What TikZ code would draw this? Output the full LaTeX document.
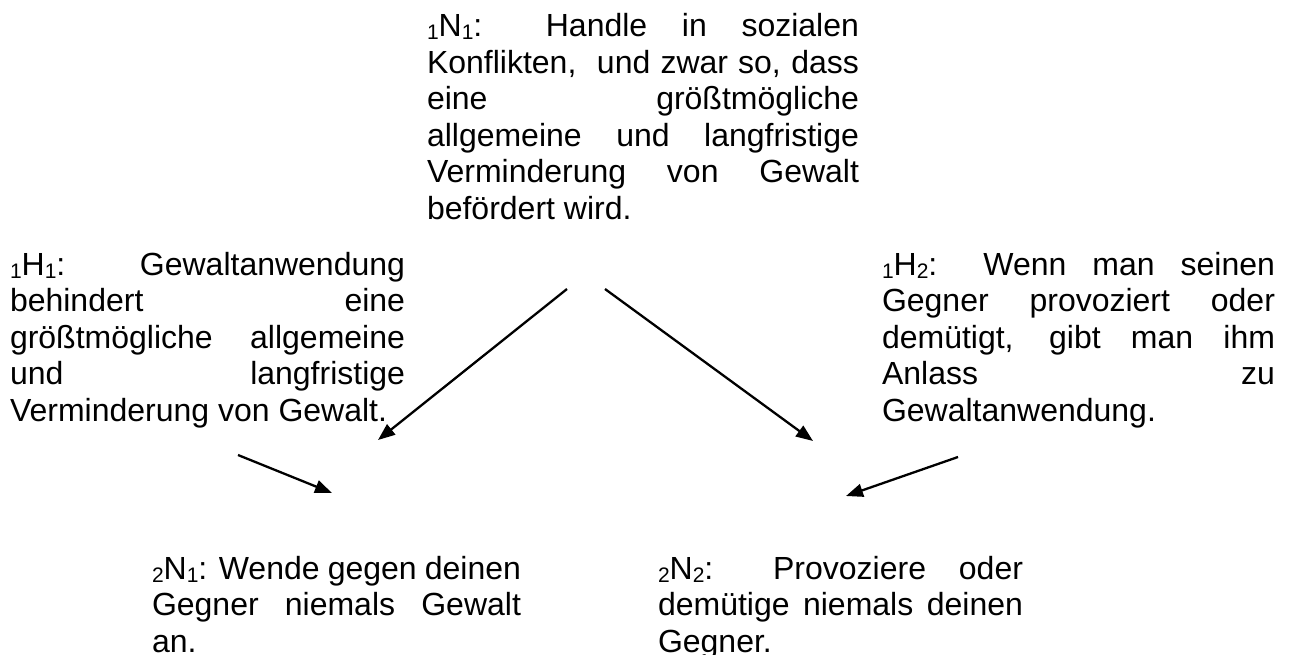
\documentclass[tikz,border=0pt]{standalone}
\usepackage{fontspec}
\setmainfont{Liberation Sans}
\usetikzlibrary{arrows.meta}

% justified line of fixed width, and a small lowered index
\newcommand\jline[1]{\makebox[\linewidth][s]{#1}\par}
\newcommand\idx[1]{\raisebox{-3pt}{\fontsize{21}{21}\selectfont #1}}
\newcommand\blocktext[2]{\begin{minipage}[t]{#1}\fontsize{32}{36.5}\selectfont\setlength\parindent{0pt}\setlength\parskip{0pt}#2\end{minipage}}

\tikzset{
  textblock/.style={anchor=base west, inner sep=0pt, outer sep=0pt},
  link/.style={line width=2.3pt, -{Triangle[length=17pt,width=13pt]}}
}

\begin{document}
\begin{tikzpicture}[x=1pt,y=-1pt]
\useasboundingbox (0,0) rectangle (1289,655);

% first-level norm
\node[textblock] (n1) at (427,37) {\blocktext{432pt}{%
\jline{\idx{1}N\idx{1}: Handle in sozialen}
\jline{Konflikten,~ und zwar so, dass}
\jline{eine größtmögliche}
\jline{allgemeine und langfristige}
\jline{Verminderung von Gewalt}
befördert wird.}};

% hypotheses
\node[textblock] (h1) at (10,275) {\blocktext{395pt}{%
\jline{\idx{1}H\idx{1}: Gewaltanwendung}
\jline{behindert eine}
\jline{größtmögliche allgemeine}
\jline{und langfristige}
Verminderung von Gewalt.}};

\node[textblock] (h2) at (882,275) {\blocktext{393pt}{%
\jline{\idx{1}H\idx{2}: Wenn man seinen}
\jline{Gegner provoziert oder}
\jline{demütigt, gibt man ihm}
\jline{Anlass zu}
Gewaltanwendung.}};

% derived norms
\node[textblock] (m1) at (152,579) {\blocktext{369pt}{%
\jline{\idx{2}N\idx{1}: Wende gegen deinen}
\jline{Gegner niemals Gewalt}
an.}};

\node[textblock] (m2) at (658,579) {\blocktext{365pt}{%
\jline{\idx{2}N\idx{2}: Provoziere oder}
\jline{demütige niemals deinen}
Gegner.}};

% arrow end points
\coordinate (aS) at (567,289);
\coordinate (aE) at (378,440);
\coordinate (bS) at (605,289);
\coordinate (bE) at (813,441);
\coordinate (cS) at (238,455);
\coordinate (cE) at (332,493);
\coordinate (dS) at (958,457);
\coordinate (dE) at (846,496);

\draw[link] (aS) -- (aE);
\draw[link] (bS) -- (bE);
\draw[link] (cS) -- (cE);
\draw[link] (dS) -- (dE);
\end{tikzpicture}
\end{document}
